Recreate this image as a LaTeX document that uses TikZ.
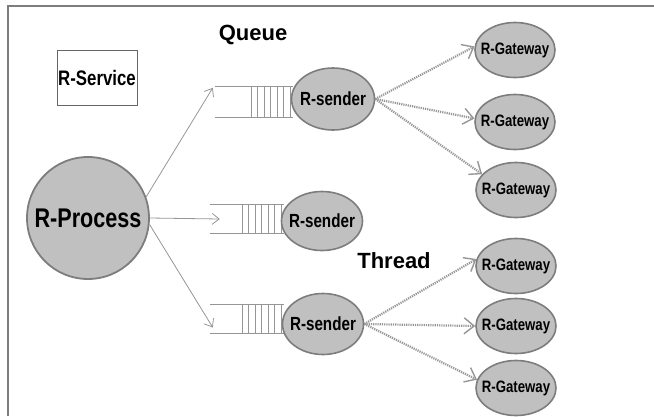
\documentclass[tikz,border=0pt]{standalone}
\usepackage{fontspec}
\setmainfont{Liberation Sans}
\newfontfamily\narrowfont[FakeStretch=0.8]{Liberation Sans}
\usetikzlibrary{arrows.meta,shapes.geometric,calc}

\definecolor{fillgray}{RGB}{192,192,192}
\definecolor{edgegray}{RGB}{125,125,125}
\definecolor{linegray}{RGB}{150,150,150}

\begin{document}
\begin{tikzpicture}[
    x=1pt, y=-1pt,
    blob/.style={ellipse, draw=edgegray, fill=fillgray, line width=1.6pt, inner xsep=-8pt, inner ysep=0pt},
    sender/.style={blob, minimum width=81pt, minimum height=61pt, font=\narrowfont\bfseries\fontsize{19}{21}\selectfont},
    gateway/.style={blob, minimum width=80pt, minimum height=55pt, font=\narrowfont\bfseries\fontsize{16.5}{18}\selectfont},
    queue/.style={minimum width=74pt, minimum height=28pt, inner sep=0pt},
    qline/.style={draw=linegray, line width=0.8pt},
    feed/.style={draw=linegray, line width=0.8pt, -{Straight Barb[length=7pt,width=11pt]}},
    link/.style={draw=linegray, line width=2.2pt, dash pattern=on 1.2pt off 1pt, -{Straight Barb[length=10pt,width=16pt,line width=1.4pt]}},
    title/.style={font=\bfseries\fontsize{22}{24}\selectfont}
  ]
  \useasboundingbox (0,0) rectangle (654,416);
  \draw[edgegray, line width=1.8pt] (8,416) -- (8,6) -- (654,6);

  \node[draw=black!60, line width=1pt, minimum width=80pt, minimum height=55pt, inner sep=0pt,
        font=\narrowfont\bfseries\fontsize{21}{23}\selectfont] (service) at (97,78) {R-Service};
  \node[title] (qlabel) at (253,35) {Queue};
  \node[title] (tlabel) at (394,261) {Thread};

  \node[circle, draw=edgegray, fill=fillgray, line width=1.8pt, minimum size=122pt, inner sep=0pt,
        font=\narrowfont\bfseries\fontsize{27}{30}\selectfont] (p) at (88,218) {R-Process};

  % queues
  \node[queue, minimum width=78pt, minimum height=30pt] (q1) at (254,102) {};
  \node[queue] (q2) at (247,219) {};
  \node[queue] (q3) at (247,319) {};
  \foreach \q in {q1,q2,q3} {
    \draw[qline] (\q.north west) -- (\q.north east) (\q.south west) -- (\q.south east);
    \foreach \i in {0,...,6}
      \draw[qline] ($(\q.north east)+(-\i*6.5-3,0)$) -- ($(\q.south east)+(-\i*6.5-3,0)$);
  }

  \node[sender, minimum width=83pt, minimum height=62pt] (s1) at (333,99) {R-sender};
  \node[sender, minimum height=59pt] (s2) at (322,221) {R-sender};
  \node[sender] (s3) at (323,324) {R-sender};

  \node[gateway] (g1) at (515,50) {R-Gateway};
  \node[gateway] (g2) at (515,122) {R-Gateway};
  \node[gateway] (g3) at (516,190) {R-Gateway};
  \node[gateway] (g4) at (516,266) {R-Gateway};
  \node[gateway] (g5) at (516,326) {R-Gateway};
  \node[gateway] (g6) at (516,388) {R-Gateway};

  \draw[feed] (p.20) -- ($(q1.north west)+(-2,1)$);
  \draw[feed] (p.0) -- ($(q2.west)+(10,0)$);
  \draw[feed] (p.-6) -- ($(q3.west)!0.6!(q3.south west)+(3,0)$);

  \draw[link] (s1.east) -- (g1.175);
  \draw[link] (s1.east) -- (g2.175);
  \draw[link] (s1.east) -- (g3.155);
  \draw[link] (s3.east) -- (g4.170);
  \draw[link] (s3.east) -- (g5.west);
  \draw[link] (s3.east) -- (g6.168);
\end{tikzpicture}
\end{document}
